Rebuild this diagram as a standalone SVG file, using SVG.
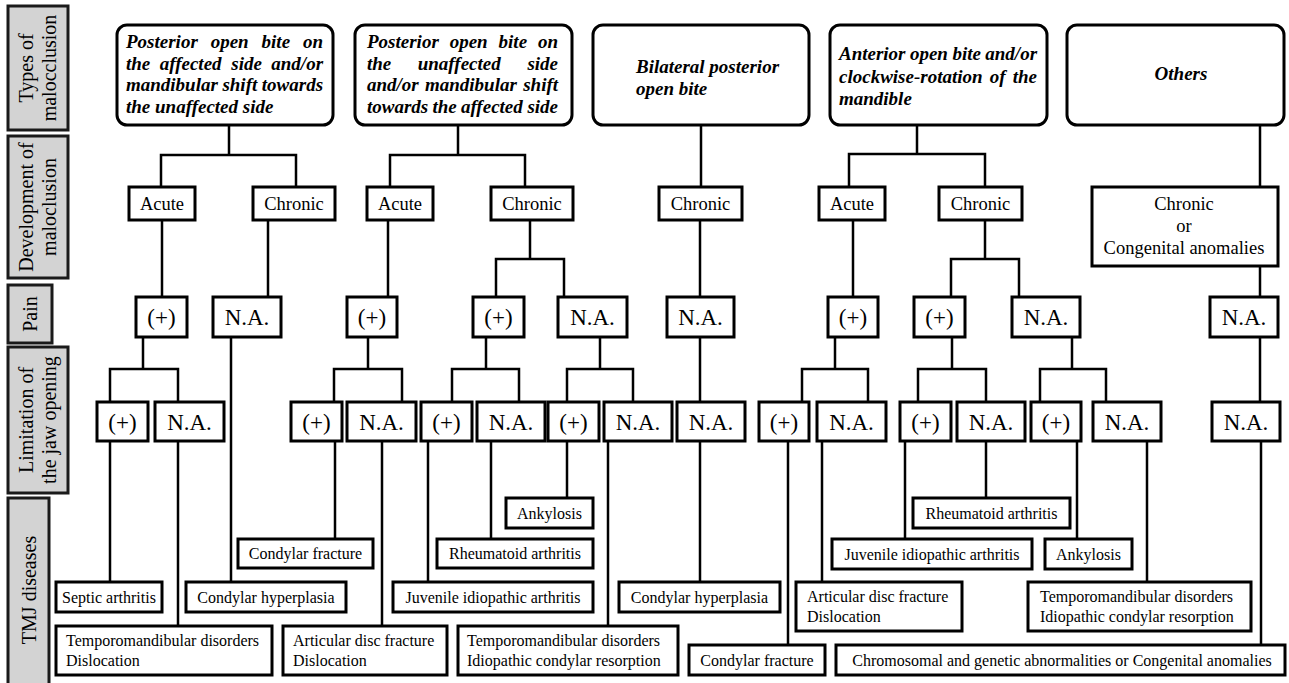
<svg xmlns="http://www.w3.org/2000/svg" width="1289" height="683" viewBox="0 0 1289 683" font-family="'Liberation Serif', 'DejaVu Serif', serif">
<style>
.bg{fill:#fff}
.side{fill:#d3d3d3;stroke:#1a1a1a;stroke-width:3}
.rbox{fill:#fff;stroke:#000;stroke-width:3}
.box{fill:#fff;stroke:#000;stroke-width:3}
.ln{fill:none;stroke:#000;stroke-width:2.5}
text{font-family:'Liberation Serif','DejaVu Serif',serif;fill:#000}
.ti{font-size:19px;font-weight:bold;font-style:italic}
.sd{font-size:20px;text-anchor:middle}
.m{font-size:18.5px;text-anchor:middle}
.p{font-size:23px;text-anchor:middle}
.d{font-size:16px}
.dc{font-size:16px;text-anchor:middle}
</style>
<rect class="bg" x="0" y="0" width="1289" height="683"/>
<g id="sidebar">
<g id="lab-types"><rect class="side" x="8" y="6" width="60" height="124"/><text class="sd" transform="translate(33,68) rotate(-90)"><tspan x="0" y="0">Types of</tspan><tspan x="0" y="23">malocclusion</tspan></text></g>
<g id="lab-dev"><rect class="side" x="8" y="136" width="60" height="142"/><text class="sd" transform="translate(33,207) rotate(-90)"><tspan x="0" y="0">Development of</tspan><tspan x="0" y="23">maloclusion</tspan></text></g>
<g id="lab-pain"><rect class="side" x="8" y="285" width="44" height="58"/><text class="sd" transform="translate(37,314) rotate(-90)">Pain</text></g>
<g id="lab-lim"><rect class="side" x="8" y="347" width="60" height="146"/><text class="sd" transform="translate(33,420) rotate(-90)"><tspan x="0" y="0">Limitation of</tspan><tspan x="0" y="23">the jaw opening</tspan></text></g>
<g id="lab-tmj"><rect class="side" x="8" y="498" width="41" height="195"/><text class="sd" transform="translate(36,590) rotate(-90)">TMJ diseases</text></g>
</g>
<g id="connectors" class="ln">
<path d="M229,125V155M161,187V155H296V187M162,220V297M268,220V297M143,337V369M110,402V369H178V402M231,337V582M110,441V582M178,441V626"/>
<path d="M458,125V155M390,187V155H525V187M388,220V297M368,337V369M334,402V369H402V402M530,220V259M496,297V259H564V297M486,337V369M452,402V369H519V402M600,337V369M567,402V369H633V402M335,441V539M382,441V626M428,441V582M491,441V539M567,441V498M608,441V626"/>
<path d="M701,125V187M700,220V297M700,337V402M700,441V582"/>
<path d="M917,125V154M849,187V154H985V187M853,220V297M835,337V369M802,402V369H868V402M985,220V259M951,297V259H1019V297M952,337V369M918,402V369H986V402M1072,337V369M1040,402V369H1106V402M788,441V645M822,441V582M905,441V539M986,441V498M1077,441V539M1147,441V582"/>
<path d="M1260,125V187M1260,266V297M1260,337V402M1261,441V645"/>
</g>
<g id="type1"><rect class="rbox" x="117" y="25" width="216" height="100" rx="10"/>
<text class="ti"><tspan x="126" y="48">Posterior</tspan><tspan x="210.7" y="48">open</tspan><tspan x="261.6" y="48">bite</tspan><tspan x="303" y="48">on</tspan>
<tspan x="126" y="69.7">the</tspan><tspan x="159.7" y="69.7">affected</tspan><tspan x="231.3" y="69.7">side</tspan><tspan x="271.3" y="69.7">and/or</tspan>
<tspan x="126" y="91.3">mandibular</tspan><tspan x="222.4" y="91.3">shift</tspan><tspan x="261.8" y="91.3">towards</tspan>
<tspan x="126" y="113">the unaffected side</tspan></text></g>
<g id="type2"><rect class="rbox" x="355" y="25" width="217" height="100" rx="10"/>
<text class="ti"><tspan x="367" y="48">Posterior</tspan><tspan x="449.7" y="48">open</tspan><tspan x="498.6" y="48">bite</tspan><tspan x="537.9" y="48">on</tspan>
<tspan x="367" y="69.7">the</tspan><tspan x="417.7" y="69.7">unaffected</tspan><tspan x="527.4" y="69.7">side</tspan>
<tspan x="367" y="91.3">and/or</tspan><tspan x="425" y="91.3">mandibular</tspan><tspan x="523.2" y="91.3">shift</tspan>
<tspan x="367" y="113">towards</tspan><tspan x="432.4" y="113">the</tspan><tspan x="460.9" y="113">affected</tspan><tspan x="527.4" y="113">side</tspan></text></g>
<g id="type3"><rect class="rbox" x="593" y="25" width="216" height="100" rx="10"/>
<text class="ti"><tspan x="636" y="73">Bilateral posterior</tspan><tspan x="636" y="95">open bite</tspan></text></g>
<g id="type4"><rect class="rbox" x="830" y="25" width="217" height="100" rx="10"/>
<text class="ti"><tspan x="839" y="60">Anterior</tspan><tspan x="909.9" y="60">open</tspan><tspan x="952.4" y="60">bite</tspan><tspan x="985.3" y="60">and/or</tspan>
<tspan x="839" y="82.5">clockwise-rotation</tspan><tspan x="989.8" y="82.5">of</tspan><tspan x="1012.7" y="82.5">the</tspan>
<tspan x="839" y="105">mandible</tspan></text></g>
<g id="type5"><rect class="rbox" x="1067" y="25" width="217" height="100" rx="10"/>
<text class="ti" x="1181" y="80" text-anchor="middle">Others</text></g>
<g id="dev1a"><rect class="box" x="129" y="187" width="66" height="33"/><text class="m" x="162" y="210">Acute</text></g>
<g id="dev1c"><rect class="box" x="253" y="187" width="82" height="33"/><text class="m" x="294" y="210">Chronic</text></g>
<g id="dev2a"><rect class="box" x="367" y="187" width="66" height="33"/><text class="m" x="400" y="210">Acute</text></g>
<g id="dev2c"><rect class="box" x="491" y="187" width="82" height="33"/><text class="m" x="532" y="210">Chronic</text></g>
<g id="dev3c"><rect class="box" x="659" y="187" width="83" height="33"/><text class="m" x="700.5" y="210">Chronic</text></g>
<g id="dev4a"><rect class="box" x="819" y="187" width="66" height="33"/><text class="m" x="852" y="210">Acute</text></g>
<g id="dev4c"><rect class="box" x="939" y="187" width="83" height="33"/><text class="m" x="980.5" y="210">Chronic</text></g>
<g id="dev5"><rect class="box" x="1092" y="187" width="186" height="79"/><text class="m"><tspan x="1184" y="210">Chronic</tspan><tspan x="1184" y="232">or</tspan><tspan x="1184" y="254">Congenital anomalies</tspan></text></g>
<g id="pain1"><rect class="box" x="136" y="297" width="51" height="40"/><text class="p" x="161.5" y="325">(+)</text></g>
<g id="pain2"><rect class="box" x="213" y="297" width="68" height="40"/><text class="p" x="247" y="325">N.A.</text></g>
<g id="pain3"><rect class="box" x="347" y="297" width="50" height="40"/><text class="p" x="372" y="325">(+)</text></g>
<g id="pain4"><rect class="box" x="473" y="297" width="51" height="40"/><text class="p" x="498.5" y="325">(+)</text></g>
<g id="pain5"><rect class="box" x="558" y="297" width="69" height="40"/><text class="p" x="592.5" y="325">N.A.</text></g>
<g id="pain6"><rect class="box" x="667" y="297" width="67" height="40"/><text class="p" x="700.5" y="325">N.A.</text></g>
<g id="pain7"><rect class="box" x="828" y="297" width="50" height="40"/><text class="p" x="853" y="325">(+)</text></g>
<g id="pain8"><rect class="box" x="914" y="297" width="51" height="40"/><text class="p" x="939.5" y="325">(+)</text></g>
<g id="pain9"><rect class="box" x="1012" y="297" width="68" height="40"/><text class="p" x="1046" y="325">N.A.</text></g>
<g id="pain10"><rect class="box" x="1210" y="297" width="68" height="40"/><text class="p" x="1244" y="325">N.A.</text></g>
<g id="lim1"><rect class="box" x="97" y="402" width="51" height="39"/><text class="p" x="122.5" y="430">(+)</text></g>
<g id="lim2"><rect class="box" x="155" y="402" width="69" height="39"/><text class="p" x="189.5" y="430">N.A.</text></g>
<g id="lim3"><rect class="box" x="291" y="402" width="51" height="39"/><text class="p" x="316.5" y="430">(+)</text></g>
<g id="lim4"><rect class="box" x="347" y="402" width="69" height="39"/><text class="p" x="381.5" y="430">N.A.</text></g>
<g id="lim5"><rect class="box" x="421" y="402" width="51" height="39"/><text class="p" x="446.5" y="430">(+)</text></g>
<g id="lim6"><rect class="box" x="477" y="402" width="68" height="39"/><text class="p" x="511" y="430">N.A.</text></g>
<g id="lim7"><rect class="box" x="548" y="402" width="51" height="39"/><text class="p" x="573.5" y="430">(+)</text></g>
<g id="lim8"><rect class="box" x="604" y="402" width="68" height="39"/><text class="p" x="638" y="430">N.A.</text></g>
<g id="lim9"><rect class="box" x="677" y="402" width="68" height="39"/><text class="p" x="711" y="430">N.A.</text></g>
<g id="lim10"><rect class="box" x="759" y="402" width="50" height="39"/><text class="p" x="784" y="430">(+)</text></g>
<g id="lim11"><rect class="box" x="817" y="402" width="69" height="39"/><text class="p" x="851.5" y="430">N.A.</text></g>
<g id="lim12"><rect class="box" x="900" y="402" width="51" height="39"/><text class="p" x="925.5" y="430">(+)</text></g>
<g id="lim13"><rect class="box" x="957" y="402" width="68" height="39"/><text class="p" x="991" y="430">N.A.</text></g>
<g id="lim14"><rect class="box" x="1031" y="402" width="50" height="39"/><text class="p" x="1056" y="430">(+)</text></g>
<g id="lim15"><rect class="box" x="1093" y="402" width="68" height="39"/><text class="p" x="1127" y="430">N.A.</text></g>
<g id="lim16"><rect class="box" x="1212" y="402" width="68" height="39"/><text class="p" x="1246" y="430">N.A.</text></g>
<g id="dis1"><rect class="box" x="56" y="582" width="106" height="30"/><text class="dc" x="109" y="602.5">Septic arthritis</text></g>
<g id="dis2"><rect class="box" x="186" y="582" width="160" height="30"/><text class="dc" x="266" y="602.5">Condylar hyperplasia</text></g>
<g id="dis3"><rect class="box" x="56" y="626" width="216" height="49"/><text class="d"><tspan x="66" y="646">Temporomandibular disorders</tspan><tspan x="66" y="666">Dislocation</tspan></text></g>
<g id="dis4"><rect class="box" x="238" y="539" width="135" height="29"/><text class="dc" x="305.5" y="559">Condylar fracture</text></g>
<g id="dis5"><rect class="box" x="283" y="626" width="164" height="49"/><text class="d"><tspan x="293" y="646">Articular disc fracture</tspan><tspan x="293" y="666">Dislocation</tspan></text></g>
<g id="dis6"><rect class="box" x="393" y="582" width="200" height="30"/><text class="dc" x="493" y="602.5">Juvenile idiopathic arthritis</text></g>
<g id="dis7"><rect class="box" x="437" y="539" width="156" height="29"/><text class="dc" x="515" y="559">Rheumatoid arthritis</text></g>
<g id="dis8"><rect class="box" x="506" y="498" width="87" height="30"/><text class="dc" x="549.5" y="518.5">Ankylosis</text></g>
<g id="dis9"><rect class="box" x="458" y="626" width="220" height="49"/><text class="d"><tspan x="467" y="646">Temporomandibular disorders</tspan><tspan x="467" y="666">Idiopathic condylar resorption</tspan></text></g>
<g id="dis10"><rect class="box" x="619" y="582" width="161" height="30"/><text class="dc" x="699.5" y="602.5">Condylar hyperplasia</text></g>
<g id="dis11"><rect class="box" x="689" y="645" width="136" height="30"/><text class="dc" x="757" y="665.5">Condylar fracture</text></g>
<g id="dis12"><rect class="box" x="796" y="582" width="166" height="49"/><text class="d"><tspan x="807" y="602">Articular disc fracture</tspan><tspan x="807" y="622">Dislocation</tspan></text></g>
<g id="dis13"><rect class="box" x="832" y="539" width="200" height="30"/><text class="dc" x="932" y="559.5">Juvenile idiopathic arthritis</text></g>
<g id="dis14"><rect class="box" x="913" y="498" width="157" height="30"/><text class="dc" x="991.5" y="518.5">Rheumatoid arthritis</text></g>
<g id="dis15"><rect class="box" x="1045" y="539" width="87" height="30"/><text class="dc" x="1088.5" y="559.5">Ankylosis</text></g>
<g id="dis16"><rect class="box" x="1028" y="582" width="223" height="49"/><text class="d"><tspan x="1040" y="602">Temporomandibular disorders</tspan><tspan x="1040" y="622">Idiopathic condylar resorption</tspan></text></g>
<g id="dis17"><rect class="box" x="836" y="645" width="449" height="30"/><text class="dc" x="1062" y="665.5">Chromosomal and genetic abnormalities or Congenital anomalies</text></g>
</svg>
